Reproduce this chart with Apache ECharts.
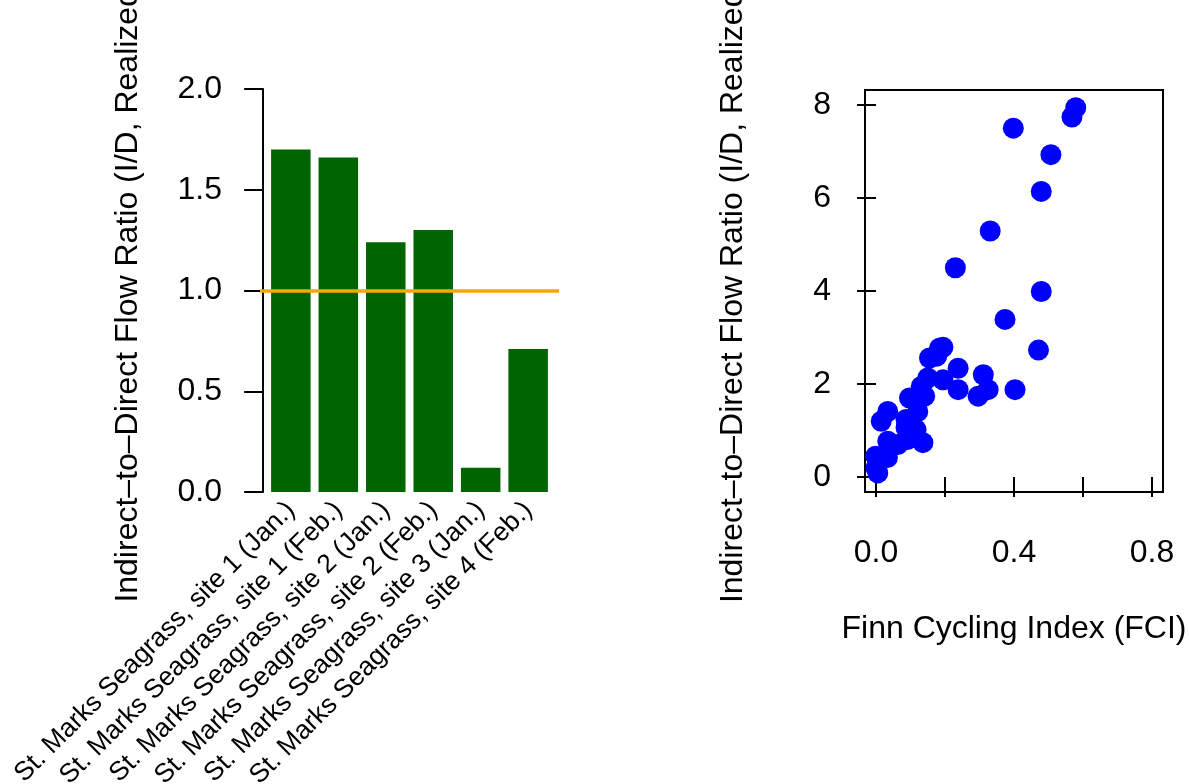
<!DOCTYPE html>
<html>
<head>
<meta charset="utf-8">
<script src="https://cdn.jsdelivr.net/npm/echarts@6/dist/echarts.min.js"></script>
<style>
  html, body { margin: 0; padding: 0; background: #ffffff; }
  #main { width: 1189px; height: 784px; }
</style>
</head>
<body>
<div id="main"></div>
<script>
// bar panel
const siteNames = [
  'St. Marks Seagrass, site 1 (Jan.)',
  'St. Marks Seagrass, site 1 (Feb.)',
  'St. Marks Seagrass, site 2 (Jan.)',
  'St. Marks Seagrass, site 2 (Feb.)',
  'St. Marks Seagrass, site 3 (Jan.)',
  'St. Marks Seagrass, site 4 (Feb.)',
];
const idRatios = [1.70, 1.66, 1.24, 1.30, 0.12, 0.71];
const ratioTicks = [0, 0.5, 1, 1.5, 2];

// scatter panel
const fciValues = [
  0.579, 0.568, 0.398, 0.507, 0.479, 0.331, 0.230, 0.479, 0.374, 0.471,
  0.403, 0.311, 0.325, 0.296, 0.238, 0.238, 0.184, 0.194, 0.155, 0.176,
  0.194, 0.150, 0.131, 0.141, 0.097, 0.121, 0.034, 0.015, 0.087, 0.116,
  0.087, 0.092, 0.136, 0.063, 0.034, 0.033, -0.001, 0.000, 0.005,
];
const idValues = [
  7.94, 7.74, 7.50, 6.93, 6.14, 5.29, 4.50, 3.99, 3.39, 2.73,
  1.88, 2.20, 1.88, 1.74, 1.88, 2.34, 2.77, 2.79, 2.56, 2.60,
  2.09, 2.13, 1.95, 1.74, 1.70, 1.41, 1.41, 1.20, 1.24, 1.02,
  1.06, 0.81, 0.74, 0.70, 0.77, 0.42, 0.45, 0.20, 0.09,
];
const fciTicks = [0, 0.2, 0.4, 0.6, 0.8];
const fciLabels = [0, 0.4, 0.8];
const idTicks = [0, 2, 4, 6, 8];

const yTitle = 'Indirect\u2013to\u2013Direct Flow Ratio (I/D, Realized)';
const fontFamily = '"Liberation Sans", Arial, Helvetica, sans-serif';

// barplot(space = 0.2): bar i sits at 0.7 + 1.2 * i
const barMids = siteNames.map((n, i) => 0.7 + 1.2 * i);

const chart = echarts.init(document.getElementById('main'));

const option = {
  animation: false,
  backgroundColor: '#ffffff',
  textStyle: { fontFamily: fontFamily, color: '#000000' },
  grid: [
    { left: 260, top: 89, width: 299, height: 403, outerBoundsMode: 'none' },
    {
      left: 865, top: 90, width: 298, height: 402, outerBoundsMode: 'none',
      show: true, borderColor: '#000000', borderWidth: 2, backgroundColor: 'transparent',
    },
  ],
  xAxis: [
    {
      gridIndex: 0,
      type: 'value',
      min: -0.08,
      max: 7.48,
      splitLine: { show: false },
      axisLine: { show: false },
      axisTick: { show: false },
      axisLabel: {
        customValues: barMids,
        rotate: 45,
        margin: 14,
        fontSize: 26.5,
        color: '#000000',
        formatter(v) {
          return siteNames[Math.round((v - 0.7) / 1.2)];
        },
      },
    },
    {
      gridIndex: 1,
      type: 'value',
      min: -0.032,
      max: 0.832,
      name: 'Finn Cycling Index (FCI)',
      nameLocation: 'middle',
      nameGap: 121,
      nameTextStyle: { fontSize: 32, color: '#000000' },
      splitLine: { show: false },
      axisLine: { show: false },
      axisTick: {
        customValues: fciTicks,
        inside: false,
        length: 20,
        lineStyle: { color: '#000000', width: 2 },
      },
      axisLabel: {
        customValues: fciLabels,
        margin: 45,
        fontSize: 32,
        color: '#000000',
        formatter(v) { return v.toFixed(1); },
      },
    },
  ],
  yAxis: [
    {
      gridIndex: 0,
      type: 'value',
      min: 0,
      max: 2,
      interval: 0.5,
      name: yTitle,
      nameLocation: 'middle',
      nameGap: 116,
      nameTextStyle: { fontSize: 32, color: '#000000' },
      splitLine: { show: false },
      axisLine: { show: true, lineStyle: { color: '#000000', width: 2 } },
      axisTick: { show: true, length: 19, lineStyle: { color: '#000000', width: 2 } },
      axisLabel: {
        customValues: ratioTicks,
        margin: 38,
        fontSize: 32,
        color: '#000000',
        formatter(v) { return v.toFixed(1); },
      },
    },
    {
      gridIndex: 1,
      type: 'value',
      min: -0.32,
      max: 8.32,
      name: yTitle,
      nameLocation: 'middle',
      nameGap: 116,
      nameTextStyle: { fontSize: 32, color: '#000000' },
      splitLine: { show: false },
      axisLine: { show: false },
      axisTick: {
        customValues: idTicks,
        length: 19,
        lineStyle: { color: '#000000', width: 2 },
      },
      axisLabel: {
        customValues: idTicks,
        margin: 34,
        fontSize: 32,
        color: '#000000',
      },
    },
  ],
  series: [
    {
      type: 'bar',
      xAxisIndex: 0,
      yAxisIndex: 0,
      barWidth: 39.5,
      itemStyle: { color: '#006400' },
      data: idRatios.map((v, i) => [barMids[i], v]),
      markLine: {
        silent: true,
        symbol: 'none',
        label: { show: false },
        lineStyle: { color: '#FFA500', width: 3.5, type: 'solid' },
        data: [{ yAxis: 1 }],
      },
    },
    {
      type: 'scatter',
      xAxisIndex: 1,
      yAxisIndex: 1,
      symbol: 'circle',
      symbolSize: 21,
      itemStyle: { color: '#0000FF', opacity: 1 },
      data: fciValues.map((v, i) => [v, idValues[i]]),
    },
  ],
};

chart.setOption(option);
</script>
</body>
</html>
